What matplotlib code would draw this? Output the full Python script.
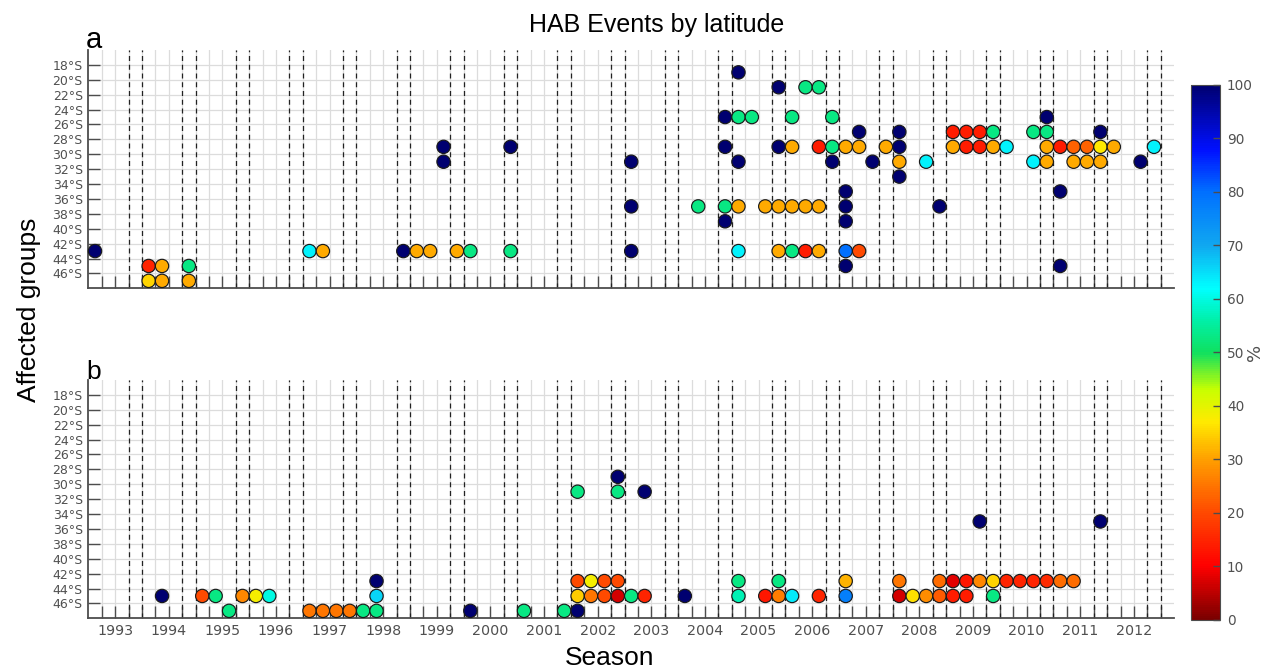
import matplotlib
matplotlib.use("Agg")
import matplotlib.pyplot as plt
import numpy as np
from matplotlib.colors import LinearSegmentedColormap
from matplotlib.cm import ScalarMappable
from matplotlib.colors import Normalize

# --- Data: panel a (year, season 1-4, latitude in deg S, % value) ---
a_year = [1993, 1994, 1994, 1994, 1994, 1994, 1994, 1997, 1997, 1998,
          1999, 1999, 1999, 1999, 1999, 2000, 2000, 2000, 2003, 2003,
          2003, 2004, 2004, 2004, 2004, 2004, 2005, 2005, 2005, 2005,
          2005, 2005, 2005, 2005, 2005, 2005, 2005, 2006, 2006, 2006,
          2006, 2006, 2006, 2006, 2006, 2006, 2006, 2006, 2006, 2006,
          2006, 2007, 2007, 2007, 2007, 2007, 2007, 2007, 2007, 2007,
          2007, 2007, 2008, 2008, 2008, 2008, 2008, 2008, 2009, 2009,
          2009, 2009, 2009, 2009, 2009, 2009, 2010, 2010, 2010, 2010,
          2010, 2010, 2010, 2011, 2011, 2011, 2011, 2011, 2011, 2011,
          2011, 2011, 2011, 2012, 2012, 2012]
a_season = [1, 1, 2, 1, 2, 4, 4, 1, 2, 4,
            1, 2, 3, 3, 4, 1, 4, 4, 1, 1,
            1, 2, 4, 4, 4, 4, 1, 1, 1, 1,
            1, 2, 3, 4, 4, 4, 4, 1, 1, 1,
            1, 2, 2, 2, 3, 3, 3, 3, 4, 4,
            4, 1, 1, 1, 1, 1, 1, 2, 2, 2,
            3, 4, 1, 1, 1, 1, 3, 4, 1, 1,
            2, 2, 3, 3, 4, 4, 1, 3, 3, 4,
            4, 4, 4, 1, 1, 1, 2, 2, 3, 3,
            4, 4, 4, 1, 3, 4]
a_lat = [43, 45, 45, 47, 47, 45, 47, 43, 43, 43,
         43, 43, 29, 31, 43, 43, 29, 43, 31, 37,
         43, 37, 25, 29, 37, 39, 19, 25, 31, 37,
         43, 25, 37, 21, 29, 37, 43, 25, 29, 37,
         43, 21, 37, 43, 21, 29, 37, 43, 25, 29,
         31, 29, 35, 37, 39, 43, 45, 27, 29, 43,
         31, 29, 27, 29, 31, 33, 31, 37, 27, 29,
         27, 29, 27, 29, 27, 29, 29, 27, 31, 25,
         27, 29, 31, 29, 35, 45, 29, 31, 29, 31,
         27, 29, 31, 29, 31, 29]
a_pct = [100, 15, 31, 35, 31, 53, 31, 63, 31, 100,
         31, 31, 100, 100, 31, 53, 100, 53, 100, 100,
         100, 53, 100, 100, 53, 100, 100, 53, 100, 31,
         63, 53, 31, 100, 100, 31, 31, 53, 31, 31,
         53, 53, 31, 14, 53, 14, 31, 31, 53, 53,
         100, 31, 100, 100, 100, 80, 100, 100, 31, 20,
         100, 31, 100, 100, 31, 100, 63, 100, 14, 31,
         14, 14, 14, 14, 53, 31, 63, 53, 63, 100,
         53, 31, 31, 14, 100, 100, 23, 31, 23, 31,
         100, 37, 31, 31, 100, 63]

# --- Data: panel b ---
b_year = [1994, 1995, 1995, 1995, 1995, 1996, 1996, 1997, 1997, 1997,
          1997, 1998, 1998, 1998, 1998, 2000, 2001, 2001, 2002, 2002,
          2002, 2002, 2002, 2002, 2002, 2002, 2002, 2002, 2002, 2002,
          2003, 2003, 2003, 2004, 2005, 2005, 2005, 2005, 2005, 2006,
          2006, 2007, 2007, 2008, 2008, 2008, 2008, 2008, 2008, 2009,
          2009, 2009, 2009, 2009, 2009, 2009, 2009, 2010, 2010, 2010,
          2010, 2011, 2011, 2011]
b_season = [2, 1, 2, 3, 4, 1, 2, 1, 2, 3,
            4, 1, 2, 2, 2, 1, 1, 4, 1, 1,
            1, 1, 2, 2, 3, 3, 4, 4, 4, 4,
            1, 2, 2, 1, 1, 1, 3, 4, 4, 1,
            3, 1, 1, 1, 1, 2, 3, 4, 4, 1,
            1, 2, 2, 3, 3, 4, 4, 1, 2, 3,
            4, 1, 2, 4]
b_lat = [45, 45, 45, 47, 45, 45, 45, 47, 47, 47,
         47, 47, 47, 43, 45, 47, 47, 47, 47, 31,
         43, 45, 43, 45, 43, 45, 29, 31, 43, 45,
         45, 31, 45, 45, 43, 45, 45, 43, 45, 45,
         45, 43, 45, 43, 45, 45, 45, 43, 45, 43,
         45, 43, 45, 35, 43, 43, 45, 43, 43, 43,
         43, 43, 43, 35]
b_pct = [100, 20, 53, 53, 27, 38, 60, 25, 25, 25,
         25, 53, 53, 100, 66, 100, 53, 53, 100, 53,
         20, 34, 38, 25, 20, 20, 100, 53, 20, 7,
         53, 100, 15, 100, 53, 57, 13, 53, 26, 64,
         15, 32, 77, 25, 7, 36, 28, 24, 22, 8,
         14, 13, 14, 100, 27, 35, 53, 15, 15, 15,
         16, 24, 24, 100]

years = list(range(1993, 2013))
lat_ticks = list(range(18, 47, 2))

cmap = LinearSegmentedColormap.from_list("hab", [
    (0.00, "#7a0000"), (0.10, "#ff0000"), (0.20, "#ff4a00"),
    (0.30, "#ffa000"), (0.37, "#ffea00"), (0.43, "#c8ff00"),
    (0.50, "#10e060"), (0.56, "#00f0a8"), (0.62, "#00ffff"),
    (0.70, "#10a8f0"), (0.80, "#0070ff"), (0.88, "#0010ff"),
    (1.00, "#000070")])
norm = Normalize(0, 100)

TXT = "Liberation Sans"
GRAY = "#4d4d4d"


def season_x(yr, s):
    return (np.asarray(yr) - years[0]) * 4 + np.asarray(s) - 0.5


def setup(ax, show_years):
    ax.set_xlim(0, 81)
    ax.set_ylim(48, 16)
    for sp in ["top", "right"]:
        ax.spines[sp].set_visible(False)
    for sp in ["left", "bottom"]:
        ax.spines[sp].set_color(GRAY)
        ax.spines[sp].set_linewidth(1.3)
    xt = np.arange(1, len(years) * 4 + 1)
    ax.set_xticks(xt)
    if show_years:
        labs = []
        for t in xt:
            labs.append(str(years[(t - 2) // 4]) if (t - 2) % 4 == 0 else "")
        ax.set_xticklabels(labs)
    else:
        ax.set_xticklabels([])
    ax.set_yticks(lat_ticks)
    ax.set_yticklabels([f"{v}°S" for v in lat_ticks])
    ax.tick_params(axis="both", direction="in", length=8.5, width=1.0,
                   color=GRAY, labelcolor="#505050")
    ax.tick_params(axis="x", labelsize=10.3, pad=4)
    ax.tick_params(axis="y", labelsize=9, pad=4)
    ax.grid(True, color="#dcdcdc", linewidth=0.9)
    ax.set_axisbelow(True)
    # dashed lines bracketing the 4th season of every year
    for yr in years:
        for off in (3, 4):
            ax.axvline((yr - years[0]) * 4 + off, color="#222222",
                       linestyle=(0, (4, 3)), linewidth=0.9, zorder=1.5)


fig = plt.figure(figsize=(12.67, 6.68), dpi=100)
ax_a = fig.add_axes([0.0697, 0.5684, 0.857, 0.3567])
ax_b = fig.add_axes([0.0697, 0.0744, 0.857, 0.3567])
setup(ax_a, False)
setup(ax_b, True)

for ax, yr, s, lat, pct in [(ax_a, a_year, a_season, a_lat, a_pct),
                            (ax_b, b_year, b_season, b_lat, b_pct)]:
    ax.scatter(season_x(yr, s), lat, c=pct, cmap=cmap, norm=norm, s=92,
               edgecolors="#1a1a1a", linewidths=0.85, zorder=3, clip_on=False)

cax = fig.add_axes([0.940, 0.0719, 0.0229, 0.801])
cb = fig.colorbar(ScalarMappable(norm=norm, cmap=cmap), cax=cax)
cb.set_ticks(range(0, 101, 10))
cb.ax.tick_params(direction="in", length=5, width=1.0, color=GRAY,
                  labelcolor="#505050", labelsize=9.8, pad=5)
cb.outline.set_edgecolor(GRAY)
cb.outline.set_linewidth(0.8)

fig.text(1255 / 1267, 1 - 352 / 668, "%", rotation=90, ha="center",
         va="center", fontsize=13, color="#505050")

fig.text(0.518, 1 - 32 / 668, "HAB Events by latitude", ha="center",
         va="baseline", fontsize=18, family=TXT)
fig.text(86 / 1267, 1 - 48 / 668, "a", ha="left", va="baseline",
         fontsize=21, family=TXT)
fig.text(86 / 1267, 1 - 379 / 668, "b", ha="left", va="baseline",
         fontsize=19, family=TXT)
fig.text(29 / 1267, 1 - 310 / 668, "Affected groups", rotation=90,
         ha="center", va="center", fontsize=19, family=TXT)
fig.text(610 / 1267, 1 - 665 / 668, "Season", ha="center", va="baseline",
         fontsize=19, family=TXT)

fig.savefig("out.png", dpi=100)
